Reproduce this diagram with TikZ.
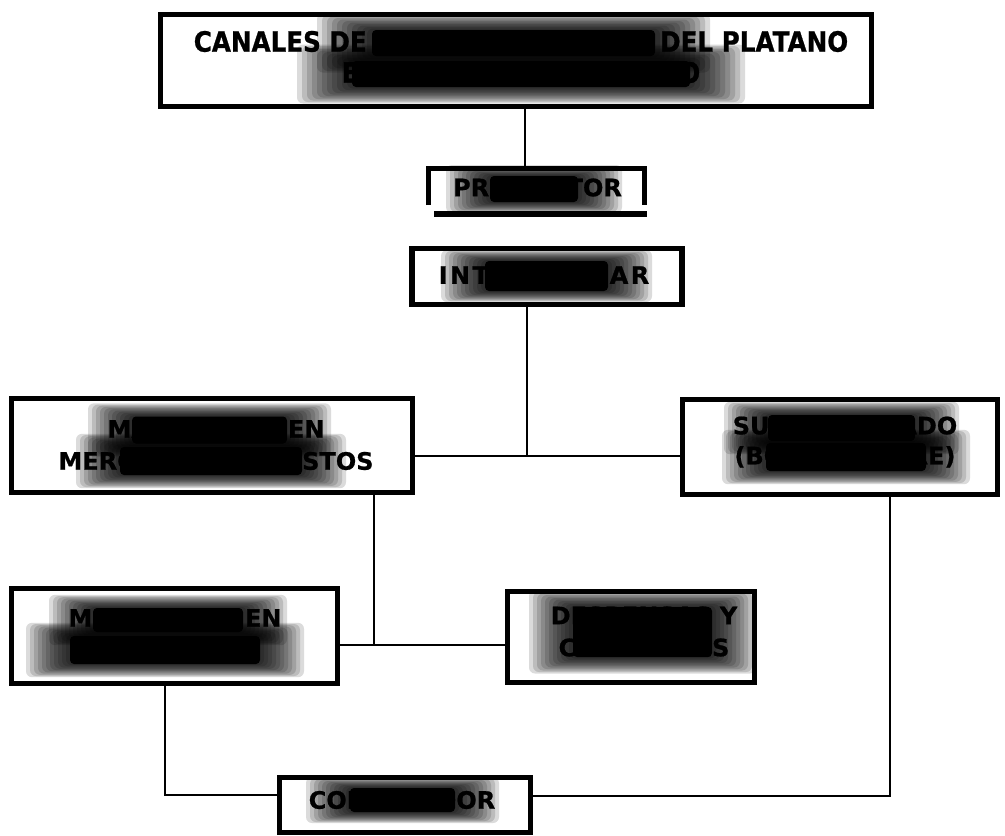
\documentclass[tikz,border=0pt]{standalone}
\usepackage{fontspec}
\setmainfont{DejaVu Sans}[BoldFeatures={FakeBold=0.8}]
\newfontfamily\titlefont{DejaVu Sans}[FakeStretch=0.88,BoldFeatures={FakeBold=0.8}]
\tikzset{
  box/.style={draw=black, line width=5.5pt, inner sep=0pt, rectangle},
  lbl/.style={font=\bfseries\fontsize{24}{32}\selectfont, align=center, inner sep=0pt, text=black},
  conn/.style={draw=black, line width=1.4pt},
  smear/.style={fill=black, opacity=0.14, rounded corners=6pt},
  smearcore/.style={fill=black, rounded corners=4pt}
}
% #1,#2 centre; #3,#4 size of the black core; #5,#6 step of the grey halo
\newcommand\smudge[6]{%
  \foreach \k in {1,...,11}{%
    \fill[smear] ({#1-#3/2-\k*#5},{#2-#4/2-\k*#6}) rectangle ({#1+#3/2+\k*#5},{#2+#4/2+\k*#6});
  }
  \fill[smearcore] ({#1-#3/2},{#2-#4/2}) rectangle ({#1+#3/2},{#2+#4/2});
}
\begin{document}
\begin{tikzpicture}[x=1pt,y=-1pt]
\fill[white] (0,0) rectangle (1005,836);
\useasboundingbox (0,0) rectangle (1005,836);

% boxes
\node[box, minimum width=711pt, minimum height=92pt] (title) at (516,60.5) {};
\node[inner sep=0pt, outer sep=0pt, minimum width=216pt, minimum height=36.5pt] (prod) at (536.5,186.75) {};
\draw[line width=5.5pt] (prod.south west) -- (prod.north west) -- (prod.north east) -- (prod.south east);
\fill (434,211) rectangle (647,217);
\node[box, minimum width=270pt, minimum height=56pt] (inter) at (547,276.5) {};
\node[box, minimum width=401pt, minimum height=94pt] (may) at (212,445.5) {};
\node[box, minimum width=315pt, minimum height=95pt] (sup) at (840,447) {};
\node[box, minimum width=326pt, minimum height=95pt] (mino) at (174.5,636) {};
\node[box, minimum width=247pt, minimum height=91pt] (desp) at (631,637) {};
\node[box, minimum width=251pt, minimum height=55pt] (cons) at (405,805) {};

% connectors
\coordinate (a1) at (525,0);
\draw[conn] (title.south -| a1) -- (prod.north -| a1);
\coordinate (j1) at (527,456);
\draw[conn] (inter.south -| j1) -- (j1);
\draw[conn] (may.east |- j1) -- (sup.west |- j1);
\coordinate (j2) at (374,645);
\draw[conn] (may.south -| j2) -- (j2);
\draw[conn] (mino.east |- j2) -- (desp.west |- j2);
\coordinate (j3) at (165,795);
\draw[conn] (mino.south -| j3) -- (j3) -- (cons.west |- j3);
\coordinate (j4) at (890,796);
\draw[conn] (sup.south -| j4) -- (j4) -- (cons.east |- j4);

% labels
\node[lbl, font=\titlefont\bfseries\fontsize{28}{31}\selectfont] (ttitle) at (521,57) {CANALES DE COMERCIALIZACION DEL PLATANO\\EN EL MERCADO INTERNO};
\node[lbl] (tprod) at (537.5,187.5) {PRODUCTOR};
\node[lbl, font=\bfseries\fontsize{24}{32}\selectfont\addfontfeature{LetterSpace=10}] (tinter) at (544,275) {INTERMEDIAR};
\node[lbl] (tmay) at (216,445) {MAYORISTAS EN\\MERCADO DE ABASTOS};
\node[lbl, font=\bfseries\fontsize{24}{30}\selectfont] (tsup) at (845,442) {SUPERMERCADO\\(BODEGA LIBRE)};
\node[lbl] (tmino) at (175,634) {MINORISTAS EN\\MERCADOS};
\node[lbl] (tdesp) at (644,631.5) {DESPENSAS Y\\COMEDORES};
\node[lbl] (tcons) at (402,800) {CONSUMIDOR};

% smudges over the texts, as in the scanned original
\smudge{513.5}{43}{283}{26}{5}{1.5}
\smudge{521}{74}{338}{26}{5}{1.5}
\smudge{534}{189}{88}{26}{4}{1}
\smudge{546.5}{276}{123}{30}{4}{1}
\smudge{209.5}{430}{155}{27}{4}{1.2}
\smudge{211}{461}{182}{28}{4}{1.2}
\smudge{841.5}{428}{147}{26}{4}{1.2}
\smudge{846}{457}{160}{28}{4}{1.2}
\smudge{168}{620}{150}{24}{4}{1.2}
\smudge{165}{650}{190}{28}{4}{1.2}
\smudge{642.5}{632}{139}{50}{4}{1.5}
\smudge{402.5}{800}{105}{24}{4}{1}
\end{tikzpicture}
\end{document}
